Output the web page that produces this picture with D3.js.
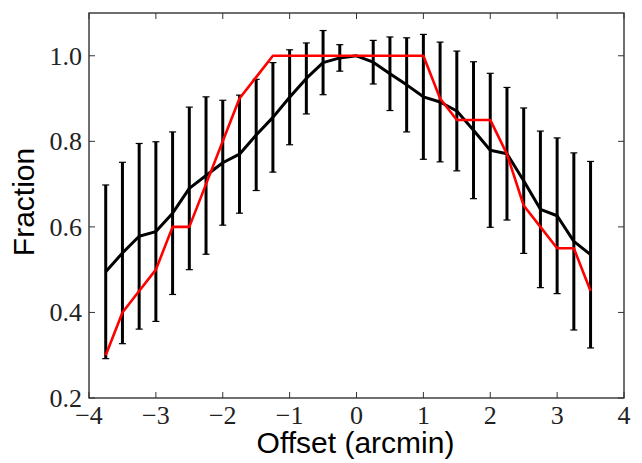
<!DOCTYPE html>
<html lang="en">

<head>
	<script src='https://d3js.org/d3.v7.min.js'></script>
	<style>
		body { margin: 0; background: #fff; }
	</style>
</head>

<body>
	<script>
    // offsets (arcmin) where the fraction was measured
    var offsets = [-3.75, -3.5, -3.25, -3.0, -2.75, -2.5, -2.25, -2.0, -1.75, -1.5,
                   -1.25, -1.0, -0.75, -0.5, -0.25, 0.0, 0.25, 0.5, 0.75, 1.0,
                   1.25, 1.5, 1.75, 2.0, 2.25, 2.5, 2.75, 3.0, 3.25, 3.5];
    // black curve: mean fraction and its error
    var fracMean = [0.495, 0.539, 0.578, 0.589, 0.632, 0.69, 0.72, 0.75, 0.77, 0.815,
                    0.856, 0.903, 0.947, 0.984, 0.995, 1.0, 0.985, 0.958, 0.932, 0.904,
                    0.892, 0.871, 0.826, 0.779, 0.771, 0.708, 0.641, 0.626, 0.566, 0.535];
    var fracErr = [0.203, 0.212, 0.217, 0.21, 0.19, 0.19, 0.184, 0.146, 0.138, 0.13,
                   0.128, 0.111, 0.083, 0.075, 0.031, 0.0, 0.051, 0.086, 0.11, 0.146,
                   0.14, 0.14, 0.16, 0.18, 0.155, 0.17, 0.183, 0.182, 0.207, 0.218];
    // red curve
    var fracRed = [0.30, 0.40, 0.45, 0.50, 0.60, 0.60, 0.70, 0.80, 0.90, 0.95,
                   1.0, 1.0, 1.0, 1.0, 1.0, 1.0, 1.0, 1.0, 1.0, 1.0,
                   0.90, 0.85, 0.85, 0.85, 0.77, 0.65, 0.60, 0.55, 0.55, 0.45];
    var xTicks = [-4, -3, -2, -1, 0, 1, 2, 3, 4];
    var yTicks = [0.2, 0.4, 0.6, 0.8, 1.0];

    var width = 642,
      height = 463;
    var plotL = 89, plotR = 624, plotT = 13, plotB = 398;

    var svg = d3.select('body')
      .append('svg')
      .attr('width', width)
      .attr('height', height);

    var x = d3.scaleLinear().domain([-4, 4]).range([plotL, plotR]);
    var y = d3.scaleLinear().domain([0.2, 1.1]).range([plotB, plotT]);

    var data = offsets.map(function(d, i) {
      return {x: d, m: fracMean[i], e: fracErr[i], r: fracRed[i]};
    });

    // error bars
    var bars = svg.append('g');
    bars.selectAll('line.bar')
      .data(data)
      .join('line')
      .attr('class', 'bar')
      .attr('x1', function(d) { return x(d.x); })
      .attr('x2', function(d) { return x(d.x); })
      .attr('y1', function(d) { return y(d.m - d.e); })
      .attr('y2', function(d) { return y(d.m + d.e); })
      .attr('stroke', '#000')
      .attr('stroke-width', 3);
    ['lo', 'hi'].forEach(function(k) {
      bars.selectAll('line.cap' + k)
        .data(data)
        .join('line')
        .attr('class', 'cap' + k)
        .attr('x1', function(d) { return x(d.x) - 3.5; })
        .attr('x2', function(d) { return x(d.x) + 3.5; })
        .attr('y1', function(d) { return y(k == 'lo' ? d.m - d.e : d.m + d.e); })
        .attr('y2', function(d) { return y(k == 'lo' ? d.m - d.e : d.m + d.e); })
        .attr('stroke', '#000')
        .attr('stroke-width', 1.2);
    });

    var lineMean = d3.line()
      .x(function(d) { return x(d.x); })
      .y(function(d) { return y(d.m); });
    var lineRed = d3.line()
      .x(function(d) { return x(d.x); })
      .y(function(d) { return y(d.r); });

    svg.append('path')
      .datum(data)
      .attr('d', lineMean)
      .attr('fill', 'none')
      .attr('stroke', '#000')
      .attr('stroke-width', 3)
      .attr('stroke-linejoin', 'round');

    svg.append('path')
      .datum(data)
      .attr('d', lineRed)
      .attr('fill', 'none')
      .attr('stroke', '#ff0000')
      .attr('stroke-width', 2.6)
      .attr('stroke-linejoin', 'round');

    // frame
    svg.append('rect')
      .attr('x', plotL)
      .attr('y', plotT)
      .attr('width', plotR - plotL)
      .attr('height', plotB - plotT)
      .attr('fill', 'none')
      .attr('stroke', '#222')
      .attr('stroke-width', 1.3);

    // inward ticks on all four sides
    var tickLen = 6;
    var tg = svg.append('g').attr('stroke', '#333').attr('stroke-width', 1);
    xTicks.forEach(function(t) {
      tg.append('line').attr('x1', x(t)).attr('x2', x(t)).attr('y1', plotB).attr('y2', plotB - tickLen);
      tg.append('line').attr('x1', x(t)).attr('x2', x(t)).attr('y1', plotT).attr('y2', plotT + tickLen);
    });
    yTicks.forEach(function(t) {
      tg.append('line').attr('x1', plotL).attr('x2', plotL + tickLen).attr('y1', y(t)).attr('y2', y(t));
      tg.append('line').attr('x1', plotR).attr('x2', plotR - tickLen).attr('y1', y(t)).attr('y2', y(t));
    });

    // tick labels
    svg.selectAll('text.xt')
      .data(xTicks)
      .join('text')
      .attr('class', 'xt')
      .attr('x', function(d) { return x(d); })
      .attr('y', 424)
      .attr('text-anchor', 'middle')
      .style('font-family', 'Liberation Serif')
      .style('font-size', '26px')
      .attr('fill', '#222')
      .text(function(d) { return d < 0 ? '\u2212' + Math.abs(d) : d; });

    svg.selectAll('text.yt')
      .data(yTicks)
      .join('text')
      .attr('class', 'yt')
      .attr('x', 82)
      .attr('y', function(d) { return y(d) + 9; })
      .attr('text-anchor', 'end')
      .style('font-family', 'Liberation Serif')
      .style('font-size', '26px')
      .attr('fill', '#222')
      .text(function(d) { return d.toFixed(1); });

    // axis labels
    svg.append('text')
      .attr('x', (plotL + plotR) / 2 - 1)
      .attr('y', 453)
      .attr('text-anchor', 'middle')
      .style('font-family', 'Liberation Sans')
      .style('font-size', '30px')
      .text('Offset (arcmin)');

    svg.append('text')
      .attr('transform', 'translate(34,202) rotate(-90)')
      .attr('text-anchor', 'middle')
      .style('font-family', 'Liberation Sans')
      .style('font-size', '30px')
      .text('Fraction');
	</script>

</body>

</html>
